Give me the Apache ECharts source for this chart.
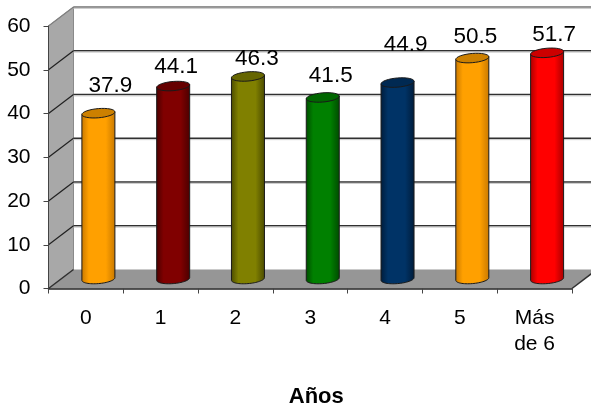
<!DOCTYPE html>
<html>
<head>
<meta charset="utf-8">
<style>html,body{margin:0;padding:0;background:#fff}#c{width:591px;height:407px}</style>
<script src="https://cdn.jsdelivr.net/npm/echarts@6/dist/echarts.min.js"></script>
</head>
<body>
<div id="c"></div>
<script>
var categories = ['0', '1', '2', '3', '4', '5', 'Más\nde 6'];
var values = [37.9, 44.1, 46.3, 41.5, 44.9, 50.5, 51.7];
var yTicks = [0, 10, 20, 30, 40, 50, 60];
var bodyColors = ['#FFA000', '#800000', '#808000', '#008000', '#003366', '#FFA000', '#FF0000'];
var edgeColors = ['#C87800', '#4a0000', '#4a4a00', '#004a00', '#001c3a', '#C87800', '#a80000'];
var capColors = ['#CC8000', '#660000', '#666600', '#006600', '#002952', '#CC8000', '#CC0000'];
// hand-placed label nudges relative to each cylinder's top
var labelDx = [12, 3, 9, 8, 8, 3, 7];
var labelDy = [-27, -19, -18, -22, -38, -21, -18];

var DEPTH_X = 25, DEPTH_Y = -19, RX = 16.5, RY = 4.6, TILT = 0.08;

function ellipsePts(cx, cy, a0, a1) {
  var pts = [], n = 32;
  for (var i = 0; i <= n; i++) {
    var a = a0 + (a1 - a0) * i / n;
    var dx = RX * Math.cos(a);
    pts.push([cx + dx, cy + RY * Math.sin(a) - TILT * dx]);
  }
  return pts;
}

function renderBackdrop(params, api) {
  var cs = params.coordSys;
  var tick = api.value(1);
  var y = api.coord([0, tick])[1];
  var x0 = cs.x, x1 = cs.x + cs.width;
  var bx = x0 + DEPTH_X, by = y + DEPTH_Y;
  var children = [];
  var lineColor = tick === 60 ? '#707070' : '#303030';
  if (tick === 0) {
    var top = cs.y;
    children.push({type: 'polygon', shape: {points: [[x0, y], [x0, top], [bx, top + DEPTH_Y], [bx, by]]},
      style: {fill: '#A8A8A8', stroke: '#8a8a8a', lineWidth: 1}});
    children.push({type: 'polygon', shape: {points: [[x0, y], [bx, by], [x1 + DEPTH_X, by], [x1, y]]},
      style: {fill: '#969696', stroke: 'none'}});
    children.push({type: 'line', shape: {x1: x0, y1: y, x2: bx, y2: by}, style: {stroke: '#303030', lineWidth: 1.5}});
    children.push({type: 'line', shape: {x1: x1, y1: y, x2: x1 + DEPTH_X, y2: by}, style: {stroke: '#303030', lineWidth: 1.5}});
    return {type: 'group', children: children};
  }
  children.push({type: 'line', shape: {x1: x0, y1: y, x2: bx, y2: by}, style: {stroke: tick === 60 ? '#808080' : '#202020', lineWidth: 1.2}});
  children.push({type: 'line', shape: {x1: bx, y1: by, x2: x1 + DEPTH_X, y2: by}, style: {stroke: lineColor, lineWidth: 1.4}});
  children.push({type: 'line', shape: {x1: bx, y1: by + 1.4, x2: x1 + DEPTH_X, y2: by + 1.4}, style: {stroke: '#c8c8c8', lineWidth: 1}});
  return {type: 'group', children: children};
}

function renderCylinder(params, api) {
  var i = api.value(0), v = api.value(1);
  var top = api.coord([i, v]), base = api.coord([i, 0]);
  var cx = top[0] + DEPTH_X / 2;
  var ty = top[1] + DEPTH_Y / 2, by = base[1] + DEPTH_Y / 2;
  var pts = [[cx - RX, ty + TILT * RX]]
    .concat(ellipsePts(cx, by, Math.PI, 0))
    .concat([[cx + RX, ty - TILT * RX]]);
  var body = {
    type: 'linear', x: 0, y: 0, x2: 1, y2: 0,
    colorStops: [
      {offset: 0, color: edgeColors[i]},
      {offset: 0.22, color: bodyColors[i]},
      {offset: 0.72, color: bodyColors[i]},
      {offset: 1, color: edgeColors[i]}
    ]
  };
  return {type: 'group', children: [
    {type: 'polygon', shape: {points: pts}, style: {fill: body, stroke: '#1a1a1a', lineWidth: 1}},
    {type: 'polygon', shape: {points: ellipsePts(cx, ty, 0, Math.PI * 2)}, style: {fill: capColors[i], stroke: '#1a1a1a', lineWidth: 1}},
    {type: 'text', x: cx + labelDx[i], y: ty + labelDy[i],
      style: {text: String(values[i]), fill: '#000', font: '22.5px "Liberation Sans", Arial, sans-serif', align: 'center', verticalAlign: 'middle'}}
  ]};
}

var chart = echarts.init(document.getElementById('c'), null, {renderer: 'canvas'});
var fontFam = '"Liberation Sans", Arial, sans-serif';
chart.setOption({
  animation: false,
  backgroundColor: '#fff',
  grid: {left: 48.5, right: 19, top: 26, bottom: 118.5, containLabel: false, outerBoundsMode: 'none'},
  xAxis: {
    type: 'category', data: categories, z: 5,
    axisLine: {show: true, lineStyle: {color: '#222', width: 1.5}},
    axisTick: {show: true, length: 5, alignWithLabel: false, lineStyle: {color: '#444', width: 1}},
    axisLabel: {show: true, interval: 0, color: '#000', fontSize: 21, fontFamily: fontFam, margin: 17, lineHeight: 26},
    name: 'Años', nameLocation: 'middle', nameGap: 97,
    nameTextStyle: {color: '#000', fontSize: 22, fontWeight: 'bold', fontFamily: fontFam, padding: [0, 0, 0, 12]}
  },
  yAxis: {
    type: 'value', min: 0, max: 60, interval: 10, z: 5,
    axisLine: {show: true, lineStyle: {color: '#444', width: 1}},
    axisTick: {show: true, length: 5, lineStyle: {color: '#444', width: 1}},
    axisLabel: {color: '#000', fontSize: 21, fontFamily: fontFam, margin: 18, padding: [3, 0, 0, 0]},
    splitLine: {show: false}
  },
  series: [
    {type: 'custom', coordinateSystem: 'cartesian2d', z: 1, clip: false, silent: true,
     renderItem: renderBackdrop,
     encode: {x: 0, y: 1},
     data: yTicks.map(function (t) { return [0, t]; })},
    {type: 'custom', coordinateSystem: 'cartesian2d', z: 3, clip: false, silent: true,
     renderItem: renderCylinder,
     encode: {x: 0, y: 1},
     data: values.map(function (v, i) { return [i, v]; })}
  ]
});
</script>
</body>
</html>
